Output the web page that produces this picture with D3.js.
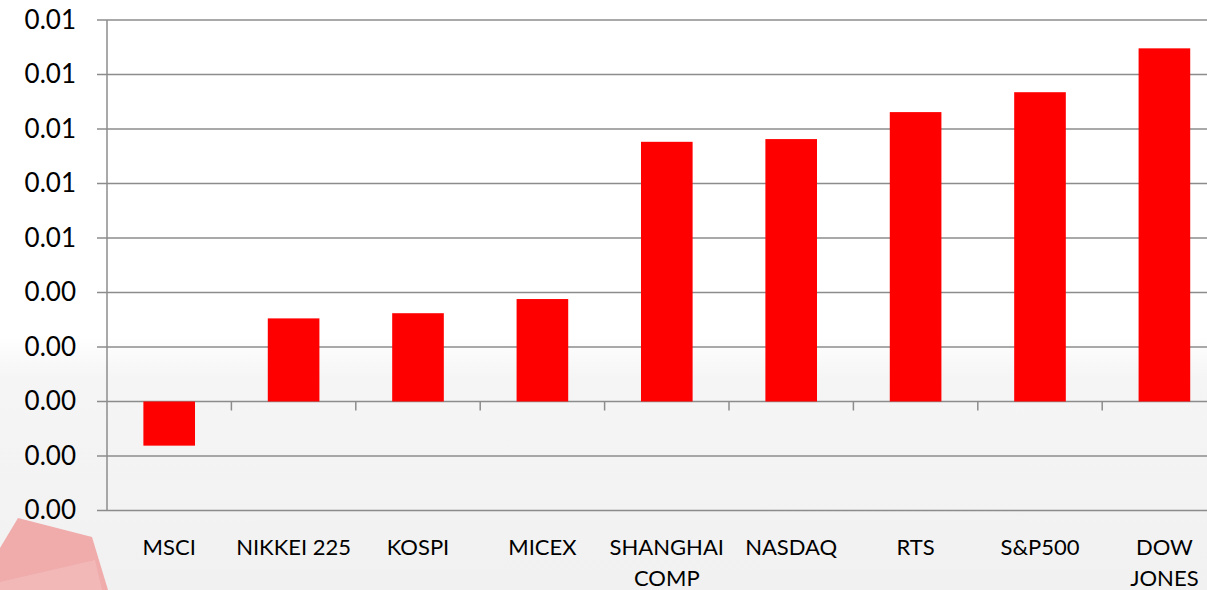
<!DOCTYPE html>
<html>
<head>
<meta charset="utf-8">
<script src="https://cdn.jsdelivr.net/npm/d3@7"></script>
<style>
  html, body { margin: 0; padding: 0; background: #ffffff; overflow: hidden; }
  svg { display: block; }
</style>
</head>
<body>
<svg id="chart" width="1207" height="590"></svg>
<script>
const categories = ["MSCI", "NIKKEI 225", "KOSPI", "MICEX", "SHANGHAI COMP", "NASDAQ", "RTS", "S&P500", "DOW JONES"];
const categoryLines = [["MSCI"], ["NIKKEI 225"], ["KOSPI"], ["MICEX"], ["SHANGHAI", "COMP"], ["NASDAQ"], ["RTS"], ["S&P500"], ["DOW", "JONES"]];
const values = [-0.00162, 0.00305, 0.00324, 0.00376, 0.00953, 0.00963, 0.01062, 0.01135, 0.01296];
const yTickValues = [-0.004, -0.002, 0, 0.002, 0.004, 0.006, 0.008, 0.010, 0.012, 0.014];
const yTickLabels = ["0.00", "0.00", "0.00", "0.00", "0.00", "0.01", "0.01", "0.01", "0.01", "0.01"];

(function () {
const svg = d3.select("#chart");
const W = 1207, H = 590;
const pLeft = 107, pTop = 20, pBottom = 510.5, pRight = 107 + 9 * 124.4;
const font = "Lato, 'Open Sans', sans-serif";

// background decoration
const defs = svg.append("defs");
const g1 = defs.append("linearGradient").attr("id", "bgGrad").attr("x1", 0).attr("y1", 0).attr("x2", 0).attr("y2", 1);
g1.append("stop").attr("offset", "0%").attr("stop-color", "#ffffff");
g1.append("stop").attr("offset", "57%").attr("stop-color", "#ffffff");
g1.append("stop").attr("offset", "64%").attr("stop-color", "#f5f5f5");
g1.append("stop").attr("offset", "100%").attr("stop-color", "#f1f1f1");
svg.append("rect").attr("x", 0).attr("y", 0).attr("width", W).attr("height", H).attr("fill", "url(#bgGrad)");
svg.append("polygon").attr("points", "0,548 18,518 92,537 108,590 0,590").attr("fill", "#f0abab");
svg.append("polygon").attr("points", "0,582 95,560 102,590 0,590").attr("fill", "#f3bcbc").attr("opacity", 0.8);

const x = d3.scaleBand().domain(categories).range([pLeft, pRight]).paddingInner(0.585).paddingOuter(0.2925);
const y = d3.scaleLinear().domain([-0.004, 0.014]).range([pBottom, pTop]);

// gridlines
svg.append("g").selectAll("line").data(yTickValues).join("line")
  .attr("x1", pLeft - 10).attr("x2", pRight)
  .attr("y1", d => y(d)).attr("y2", d => y(d))
  .attr("stroke", "#8c8c8c").attr("stroke-width", 1.5);

// y axis line
svg.append("line").attr("x1", pLeft).attr("x2", pLeft).attr("y1", pTop).attr("y2", pBottom)
  .attr("stroke", "#8c8c8c").attr("stroke-width", 1.5);

// y axis labels
const yAxis = d3.axisLeft(y).tickValues(yTickValues).tickFormat((d, i) => yTickLabels[i]).tickSize(0).tickPadding(31);
const ya = svg.append("g").attr("transform", `translate(${pLeft},0)`).call(yAxis);
ya.select(".domain").remove();
ya.selectAll("text").attr("font-family", font).attr("font-size", 26).attr("fill", "#000");

// bars
svg.append("g").selectAll("rect").data(values).join("rect")
  .attr("x", (d, i) => x(categories[i]))
  .attr("width", x.bandwidth())
  .attr("y", d => y(Math.max(0, d)))
  .attr("height", d => Math.abs(y(d) - y(0)))
  .attr("fill", "#ff0000");

// category ticks on zero line
const step = x.step();
const boundaries = categories.slice(1).map(c => x(c) - step * x.paddingInner() / 2);
svg.append("g").selectAll("line").data(boundaries).join("line")
  .attr("x1", d => d).attr("x2", d => d)
  .attr("y1", y(0)).attr("y2", y(0) + 9)
  .attr("stroke", "#8c8c8c").attr("stroke-width", 1.5);

// category labels
const lab = svg.append("g").selectAll("text").data(categories).join("text")
  .attr("x", d => x(d) + x.bandwidth() / 2)
  .attr("y", 555)
  .attr("text-anchor", "middle")
  .attr("font-family", font)
  .attr("font-size", 22)
  .attr("fill", "#000");
lab.each(function(d, i) {
  const t = d3.select(this);
  categoryLines[i].forEach((ln, j) => {
    t.append("tspan").attr("x", x(d) + x.bandwidth() / 2).attr("dy", j === 0 ? 0 : 31).text(ln);
  });
});
})();
</script>
</body>
</html>
